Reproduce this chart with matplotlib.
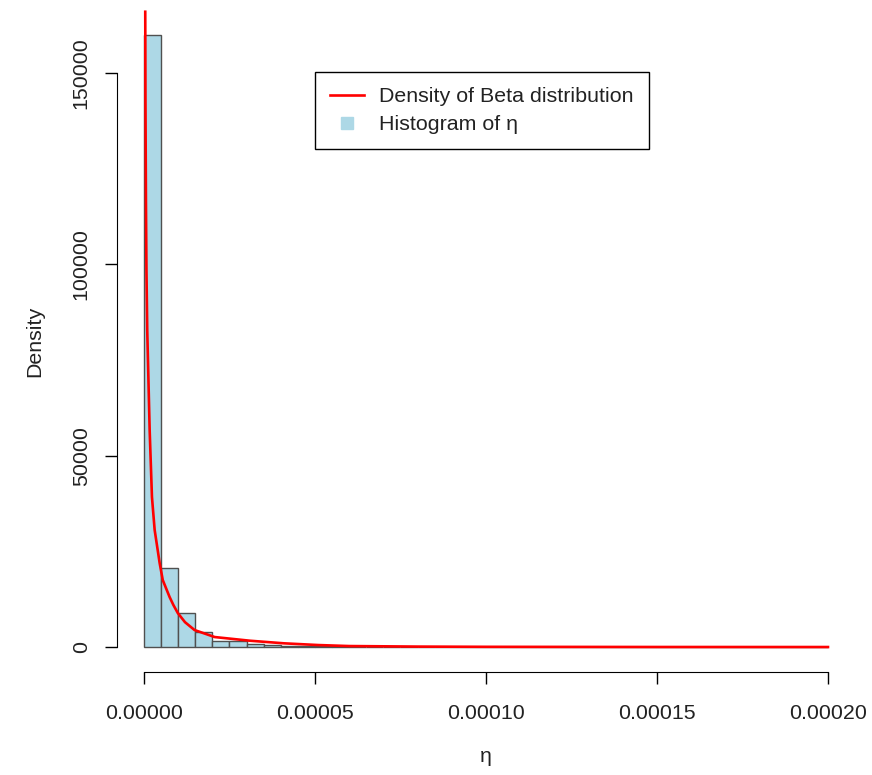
import numpy as np
import matplotlib
matplotlib.use("Agg")
import matplotlib.pyplot as plt
from matplotlib.lines import Line2D

plt.rcParams['font.family'] = ['Liberation Sans', 'DejaVu Sans']

# histogram of eta: bins of width 5e-6 starting at 0
bin_width = 5e-6
hist_density = [160000, 20600, 8900, 3840, 1700, 1500, 800, 600, 380, 280,
                240, 160, 120, 100, 80, 60, 50, 40, 30, 30,
                20, 20, 20, 10, 10, 10, 10, 0, 0, 10,
                0, 0, 0, 0, 10, 0, 0, 0, 0, 0]

# beta density curve (x, density)
beta_x = [3.8e-7, 4.4e-7, 5.8e-7, 7.3e-7, 9.6e-7, 1.67e-6, 2.34e-6, 3.13e-6,
          4.59e-6, 5.5e-6, 7.5e-6, 8.6e-6, 9.9e-6, 1.2e-5, 1.48e-5, 2.07e-5,
          3.1e-5, 4.1e-5, 5.1e-5, 6.0e-5, 8.0e-5, 1.0e-4, 1.5e-4, 2.0e-4]
beta_y = [166000, 143000, 116800, 98500, 82800, 56700, 39200, 30600,
          21950, 17500, 13070, 11000, 8880, 6500, 4440, 2610,
          1650, 970, 520, 260, 120, 60, 15, 5]

xticks = [0, 5e-5, 1e-4, 1.5e-4, 2e-4]
yticks = [0, 50000, 100000, 150000]

fs = 15.4
fig = plt.figure(figsize=(8.72, 7.75), dpi=100)
ax = fig.add_axes([0.1337, 0.1335, 0.8472, 0.8533])

lefts = np.arange(len(hist_density)) * bin_width
ax.bar(lefts, hist_density, width=bin_width, align='edge',
       color='#add8e6', edgecolor='#505050', linewidth=1.0)
ax.plot(beta_x, beta_y, color='red', lw=1.9)

ax.set_xlim(-8e-6, 2.08e-4)
ax.set_ylim(-6400, 166400)

for s in ['top', 'right']:
    ax.spines[s].set_visible(False)
ax.spines['left'].set_bounds(0, 150000)
ax.spines['bottom'].set_bounds(0, 2e-4)

ax.set_xticks(xticks)
ax.set_xticklabels(['%.5f' % v for v in xticks])
ax.set_yticks(yticks)
ax.set_yticklabels([str(v) for v in yticks])
ax.tick_params(length=8.6, width=1.0, labelsize=fs, color='black',
               labelcolor='#222222')
ax.tick_params(axis='x', pad=15)
ax.tick_params(axis='y', pad=10, labelrotation=90)
for lab in ax.get_yticklabels():
    lab.set_va('center')

ax.set_xlabel('η', fontsize=fs, labelpad=17, color='#222222')
ax.set_ylabel('Density', fontsize=fs, labelpad=20, color='#222222')

handles = [Line2D([0], [0], color='red', lw=1.9),
           Line2D([0], [0], marker='s', color='#add8e6', ls='none', markersize=8)]
leg = ax.legend(handles, ['Density of Beta distribution', 'Histogram of η'],
                loc='upper left', bbox_to_anchor=(0.2686, 0.9065),
                borderaxespad=0, fancybox=False, framealpha=1,
                edgecolor='black', fontsize=fs, handlelength=1.58,
                handletextpad=0.68, labelspacing=0.4, borderpad=0.72,
                labelcolor='#222222')
leg.get_frame().set_linewidth(1.0)

fig.savefig('out.png', dpi=100)
